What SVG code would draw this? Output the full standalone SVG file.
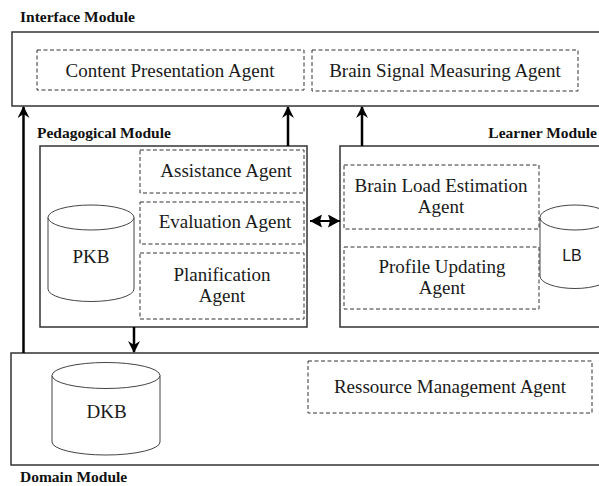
<svg xmlns="http://www.w3.org/2000/svg" width="599" height="486" viewBox="0 0 599 486">
<style>
.mod{fill:#fff;stroke:#333;stroke-width:1.5}
.agent{fill:#fff;stroke:#333;stroke-width:1;stroke-dasharray:4 2.5}
.t{font-family:"Liberation Serif","Times New Roman",serif;font-size:19px;fill:#1a1a1a;text-anchor:middle}
.h{font-family:"Liberation Serif","Times New Roman",serif;font-size:15.5px;font-weight:bold;fill:#111}
.db{fill:#fff;stroke:#444;stroke-width:1}
.conn{stroke:#000;stroke-width:2.5;fill:none}
</style>
<defs>
<marker id="ah" viewBox="0 0 12 12" refX="11" refY="6" markerWidth="12" markerHeight="12" markerUnits="userSpaceOnUse" orient="auto-start-reverse">
<path d="M0,0 L12,6 L0,12 L4,6 Z" fill="#000"/>
</marker>
<marker id="ah2" viewBox="0 0 12 13" refX="12" refY="6.5" markerWidth="12" markerHeight="13" markerUnits="userSpaceOnUse" orient="auto-start-reverse">
<path d="M0,0 L12,6.5 L0,13 L2,6.5 Z" fill="#000"/>
</marker>
</defs>

<g id="interface-module">
<rect class="mod" x="12" y="32" width="600" height="74"/>
<text class="h" x="20" y="22">Interface Module</text>
</g>
<g id="content-presentation-agent">
<rect class="agent" x="37" y="50" width="267" height="40"/>
<text class="t" x="170" y="77">Content Presentation Agent</text>
</g>
<g id="brain-signal-measuring-agent">
<rect class="agent" x="312" y="50" width="266" height="41"/>
<text class="t" x="445" y="77">Brain Signal Measuring Agent</text>
</g>

<g id="pedagogical-module">
<rect class="mod" x="40" y="146" width="267" height="181"/>
<text class="h" x="37" y="138">Pedagogical Module</text>
</g>
<g id="assistance-agent">
<rect class="agent" x="140" y="150" width="164" height="43"/>
<text class="t" x="226" y="177">Assistance Agent</text>
</g>
<g id="evaluation-agent">
<rect class="agent" x="140" y="202" width="164" height="42"/>
<text class="t" x="225" y="228">Evaluation Agent</text>
</g>
<g id="planification-agent">
<rect class="agent" x="140" y="253" width="164" height="66"/>
<text class="t" x="222" y="281">Planification</text>
<text class="t" x="222" y="302">Agent</text>
</g>
<g id="pkb">
<path class="db" d="M48,217.5 A43,12.5 0 0 1 134,217.5 L134,289 A43,12.5 0 0 1 48,289 Z"/>
<path class="db" d="M48,217.5 A43,12.5 0 0 0 134,217.5" fill="none"/>
<text class="t" x="91" y="263">PKB</text>
</g>

<g id="learner-module">
<rect class="mod" x="340" y="146" width="300" height="181"/>
<text class="h" x="597" y="138" text-anchor="end">Learner Module</text>
</g>
<g id="brain-load-estimation-agent">
<rect class="agent" x="344" y="165" width="195" height="64"/>
<text class="t" x="441" y="192">Brain Load Estimation</text>
<text class="t" x="441" y="213">Agent</text>
</g>
<g id="profile-updating-agent">
<rect class="agent" x="344" y="247" width="195" height="62"/>
<text class="t" x="442" y="273">Profile Updating</text>
<text class="t" x="442" y="294">Agent</text>
</g>
<g id="lb">
<path class="db" d="M540,217.5 A35,12.5 0 0 1 610,217.5 L610,276 A35,12.5 0 0 1 540,276 Z"/>
<path class="db" d="M540,217.5 A35,12.5 0 0 0 610,217.5" fill="none"/>
<text x="572" y="261" font-family="'Liberation Sans',Arial,sans-serif" font-size="16" fill="#1a1a1a" text-anchor="middle">LB</text>
</g>

<g id="domain-module">
<rect class="mod" x="11" y="353" width="600" height="112"/>
<text class="h" x="20" y="482">Domain Module</text>
</g>
<g id="dkb">
<path class="db" d="M52,375.5 A54,13 0 0 1 160,375.5 L160,442 A54,13 0 0 1 52,442 Z"/>
<path class="db" d="M52,375.5 A54,13 0 0 0 160,375.5" fill="none"/>
<text class="t" x="106.5" y="418" font-size="20.5">DKB</text>
</g>
<g id="ressource-management-agent">
<rect class="agent" x="308" y="361" width="284" height="52"/>
<text class="t" x="450" y="393">Ressource Management Agent</text>
</g>

<g id="connectors">
<line class="conn" x1="23.5" y1="353" x2="23.5" y2="107" marker-end="url(#ah)"/>
<line class="conn" x1="288" y1="146" x2="288" y2="107" marker-end="url(#ah)"/>
<line class="conn" x1="362" y1="146" x2="362" y2="107" marker-end="url(#ah)"/>
<line class="conn" x1="134" y1="327" x2="134" y2="352" marker-end="url(#ah)"/>
<line stroke="#000" stroke-width="2" x1="310" y1="221" x2="340" y2="221" marker-start="url(#ah2)" marker-end="url(#ah2)"/>
</g>
</svg>
